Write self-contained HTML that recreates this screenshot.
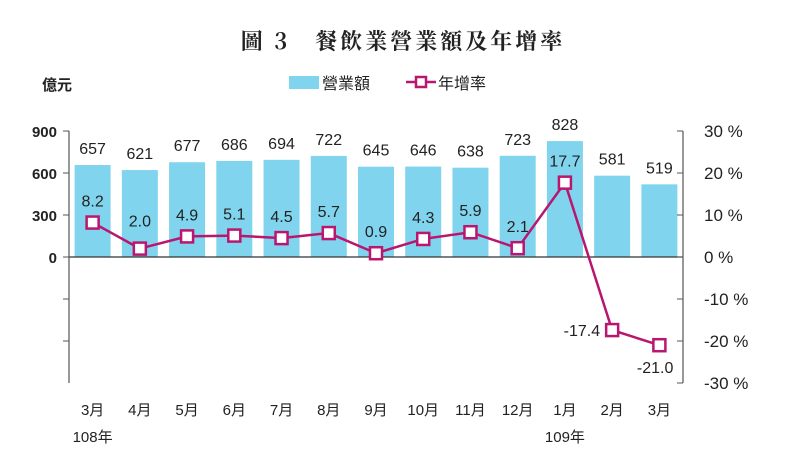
<!DOCTYPE html>
<html><head><meta charset="utf-8"><style>
body{margin:0;background:#fff;}
svg text{font-family:"Liberation Sans","Noto Sans CJK TC",sans-serif;fill:#222;}
</style></head><body>
<svg width="806" height="457" viewBox="0 0 806 457">
<text x="403" y="49" text-anchor="middle" font-size="22" font-weight="bold" style="font-family:'Noto Serif CJK SC','Noto Sans CJK TC',serif;letter-spacing:3px">圖 3　餐飲業營業額及年增率</text>
<text x="42" y="90" font-size="15" font-weight="bold">億元</text>
<g>
<rect x="289" y="76" width="30" height="13" fill="#80d4ee"/>
<text x="322" y="89" font-size="16">營業額</text>
<line x1="406" y1="82" x2="436" y2="82" stroke="#b8166f" stroke-width="2.5"/>
<rect x="416" y="77" width="10" height="10" fill="#fff" stroke="#b8166f" stroke-width="2.5"/>
<text x="438" y="89" font-size="16">年增率</text>
</g>
<g id="plot"></g>
</svg>
<script>
const categories=["3月","4月","5月","6月","7月","8月","9月","10月","11月","12月","1月","2月","3月"];
const revenue=[657,621,677,686,694,722,645,646,638,723,828,581,519];
const growth=[8.2,2.0,4.9,5.1,4.5,5.7,0.9,4.3,5.9,2.1,17.7,-17.4,-21.0];
const leftTicks=[0,300,600,900];
const rightTicks=[30,20,10,0,-10,-20,-30];
const NS="http://www.w3.org/2000/svg";
const g=document.getElementById('plot');
const x0=69,x1=683,step=(x1-x0)/categories.length;
const yL=v=>257-v*126/900;
const yR=v=>257-v*126/30;
const xc=i=>x0+step*(i+0.5);
function mk(t,a,p){const e=document.createElementNS(NS,t);for(const k in a)e.setAttribute(k,a[k]);(p||g).appendChild(e);return e;}
revenue.forEach((v,i)=>{
 const r=mk('rect',{x:xc(i)-18,y:yL(v),width:36,height:257-yL(v),fill:'#80d4ee'});
 
 
 const t=mk('text',{x:xc(i),y:yL(v)-11,'text-anchor':'middle','font-size':16});t.textContent=v;
 
 
});
mk('line',{x1:x0,y1:257,x2:x1,y2:257,stroke:'#333','stroke-width':1.2});
mk('line',{x1:x0,y1:yL(900),x2:x0,y2:383,stroke:'#555','stroke-width':1.2});
mk('line',{x1:x1,y1:yR(30),x2:x1,y2:383,stroke:'#555','stroke-width':1.2});
leftTicks.forEach(v=>{mk('line',{x1:x0-6,y1:yL(v),x2:x0,y2:yL(v),stroke:'#555'});
 const t=mk('text',{x:x0-12,y:yL(v)+6,'text-anchor':'end','font-size':15,'font-weight':'bold'});t.textContent=v;
 
 });
[-10,-20].forEach(v=>mk('line',{x1:x0-6,y1:yR(v),x2:x0,y2:yR(v),stroke:'#555'}));
rightTicks.forEach(v=>{mk('line',{x1:x1-6,y1:yR(v),x2:x1,y2:yR(v),stroke:'#555'});
 const t=mk('text',{x:x1+21,y:yR(v)+6,'font-size':17});t.textContent=v+' %';
 
 });
const pts=growth.map((v,i)=>xc(i)+','+yR(v)).join(' ');
const pl=mk('polyline',{points:pts,fill:'none',stroke:'#b8166f','stroke-width':2.5});


growth.forEach((v,i)=>{
 const m=mk('rect',{x:xc(i)-6,y:yR(v)-6,width:12,height:12,fill:'#fff',stroke:'#b8166f','stroke-width':2.5});
 
 
 let tx=xc(i),ty=yR(v)-16,anc='middle';
 if(v<0){tx=xc(i)-(i==11?12:-2);ty=yR(v)+(i==11?6:28);anc='end';if(i==12)tx=xc(i)+14;}
 if(i==1){ty=yR(v)-22;}
 const t=mk('text',{x:tx,y:ty,'text-anchor':anc,'font-size':16});t.textContent=v.toFixed(1);
 
 
});
categories.forEach((c,i)=>{const t=mk('text',{x:xc(i),y:415,'text-anchor':'middle','font-size':15});t.textContent=c;
 
 });
[[0,'108年'],[10,'109年']].forEach(([i,s])=>{const t=mk('text',{x:xc(i),y:442,'text-anchor':'middle','font-size':15});t.textContent=s;
 
 });
</script>
</body></html>
